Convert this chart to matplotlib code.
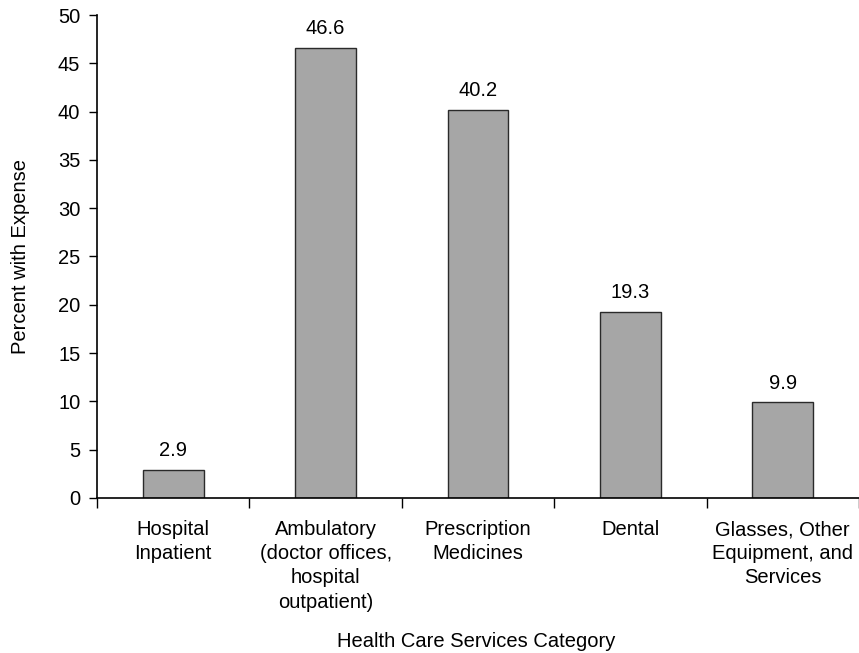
import matplotlib
matplotlib.use("Agg")
import matplotlib.pyplot as plt
import numpy as np

plt.rcParams['font.family'] = ['Liberation Sans', 'DejaVu Sans']

categories = [
    "Hospital\nInpatient",
    "Ambulatory\n(doctor offices,\nhospital\noutpatient)",
    "Prescription\nMedicines",
    "Dental",
    "Glasses, Other\nEquipment, and\nServices",
]
values = [2.9, 46.6, 40.2, 19.3, 9.9]
y_ticks = list(range(0, 51, 5))

FS = 14.5

fig = plt.figure(figsize=(8.59, 6.53), dpi=100)
ax = fig.add_axes([0.1129, 0.2374, 0.8871, 0.7396])

x = np.arange(len(categories))
ax.bar(x, values, width=0.4, color="#a6a6a6", edgecolor="#2a2a2a", linewidth=1.0)

for xi, v in zip(x, values):
    ax.text(xi, v + 1.0, f"{v:.1f}", ha="center", va="bottom", fontsize=FS)

ax.set_xlim(-0.5, len(categories) - 0.5)
ax.set_ylim(0, 50)
ax.set_yticks(y_ticks)
ax.tick_params(axis="y", direction="out", length=6, width=1, labelsize=FS, pad=6)

ax.set_xticks(np.arange(-0.5, len(categories), 1.0))
ax.set_xticklabels([])
ax.tick_params(axis="x", which="major", direction="out", length=7, width=1)
ax.set_xticks(x, minor=True)
ax.set_xticklabels(categories, minor=True, fontsize=FS, linespacing=1.34, va="top")
ax.tick_params(axis="x", which="minor", length=0, pad=16)

for side in ("top", "right"):
    ax.spines[side].set_visible(False)
for side in ("left", "bottom"):
    ax.spines[side].set_linewidth(1.2)
    ax.spines[side].set_color("black")

ax.set_ylabel("Percent with Expense", fontsize=FS, labelpad=20)
fig.text(0.5544, 0.017, "Health Care Services Category", ha="center", va="center", fontsize=FS)

fig.savefig("out.png", dpi=100)
